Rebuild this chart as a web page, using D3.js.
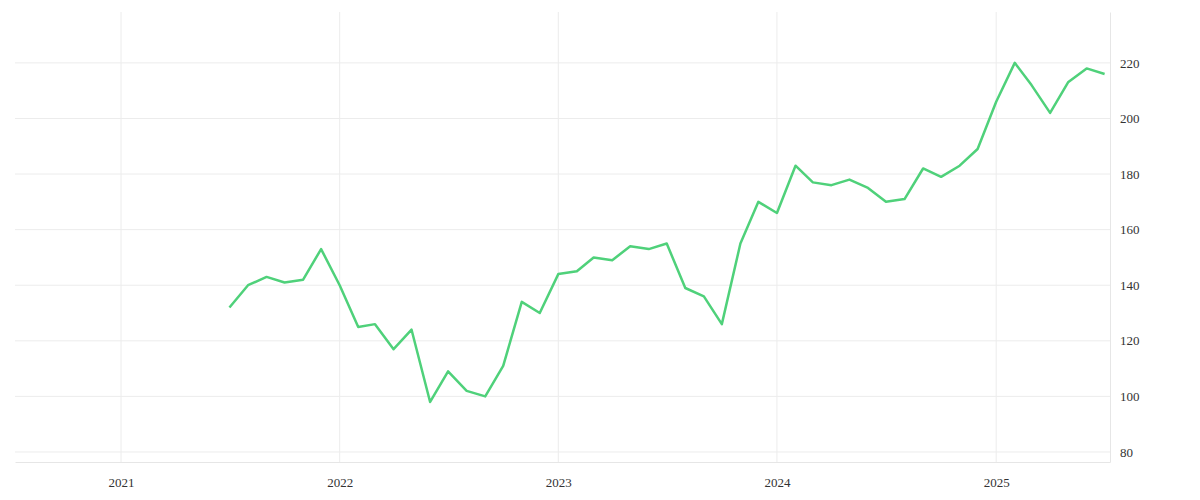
<!DOCTYPE html>
<html>
<head>
<meta charset="utf-8">
<script src="https://cdn.jsdelivr.net/npm/d3@7"></script>
<style>
  body { margin: 0; background: #fff; }
  .tick text { font-family: "Liberation Serif", serif; font-size: 13px; fill: #333; }
</style>
</head>
<body>
<svg id="chart" width="1200" height="500"></svg>
<script>
// monthly series, Jul 2021 .. Jul 2025
const startMonth = "2021-07";
const values = [
  132, 140, 143, 141, 142, 153,
  140, 125, 126, 117, 124, 98, 109, 102, 100, 111, 134, 130,
  144, 145, 150, 149, 154, 153, 155, 139, 136, 126, 155, 170,
  166, 183, 177, 176, 178, 175, 170, 171, 182, 179, 183, 189,
  206, 220, 212, 202, 213, 218, 216
];
const yTicks = [80, 100, 120, 140, 160, 180, 200, 220];
const yearTicks = ["2021", "2022", "2023", "2024", "2025"];

const parse = d3.timeParse("%Y-%m");
const t0 = parse(startMonth);
const data = values.map((v, i) => ({ date: d3.timeMonth.offset(t0, i), value: v }));

const svg = d3.select("#chart");
const m = { left: 15, right: 1110, top: 12, bottom: 462 };

const x = d3.scaleTime()
  .domain([new Date(2020, 6, 8), new Date(2025, 6, 10)])
  .range([m.left, m.right]);
const y = d3.scaleLinear().domain([76.4, 238.3]).range([m.bottom, m.top]);

const yearDates = yearTicks.map(s => new Date(+s, 0, 1));

// grid
svg.append("g").selectAll("line").data(yearDates).join("line")
  .attr("x1", d => x(d)).attr("x2", d => x(d))
  .attr("y1", m.top).attr("y2", m.bottom)
  .attr("stroke", "#ececec");
svg.append("g").selectAll("line").data(yTicks).join("line")
  .attr("x1", m.left).attr("x2", m.right)
  .attr("y1", d => y(d)).attr("y2", d => y(d))
  .attr("stroke", "#ececec");

// axes
const xAxis = svg.append("g")
  .attr("transform", `translate(0,${m.bottom})`)
  .call(d3.axisBottom(x).tickValues(yearDates).tickFormat(d3.timeFormat("%Y")).tickSize(0).tickPadding(16));
xAxis.select(".domain").attr("stroke", "#e6e6e6");

const yAxis = svg.append("g")
  .attr("transform", `translate(${m.right},0)`)
  .call(d3.axisRight(y).tickValues(yTicks).tickSize(0).tickPadding(10));
yAxis.select(".domain").attr("stroke", "#e6e6e6");

// line
svg.append("path")
  .datum(data)
  .attr("fill", "none")
  .attr("stroke", "#4fd17a")
  .attr("stroke-width", 2.5)
  .attr("stroke-linejoin", "round")
  .attr("d", d3.line().x(d => x(d.date)).y(d => y(d.value)));
</script>
</body>
</html>
